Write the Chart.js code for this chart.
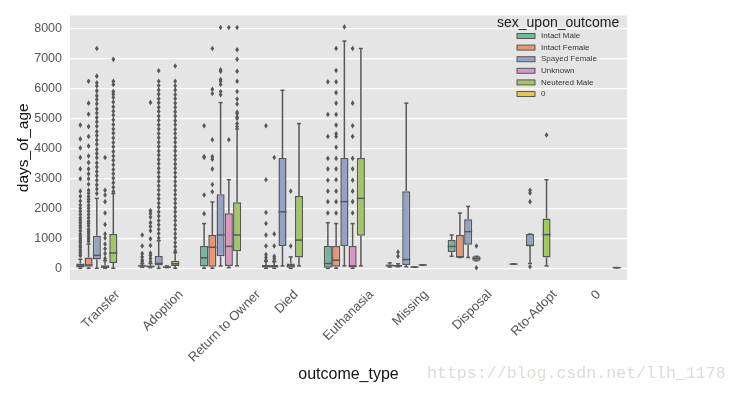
<!DOCTYPE html>
<html>
<head>
<meta charset="utf-8">
<script src="https://cdn.jsdelivr.net/npm/chart.js@4.4.1/dist/chart.umd.min.js"></script>
<style>
	html, body { margin: 0; padding: 0; background: #fff; }
	#chart { display: block; }
</style>
</head>
<body>
<canvas id="chart" width="738" height="393"></canvas>
<script>
const categories = ['Transfer', 'Adoption', 'Return to Owner', 'Died', 'Euthanasia', 'Missing', 'Disposal', 'Rto-Adopt', '0'];
const hues = ['Intact Male', 'Intact Female', 'Spayed Female', 'Unknown', 'Neutered Male', '0'];
const hueColors = ['#71b7a1', '#e99675', '#95a3c3', '#db95c0', '#a2c864', '#e5c849'];
const yTicks = [0, 1000, 2000, 3000, 4000, 5000, 6000, 7000, 8000];

// per category: [whisker low, q1, median, q3, whisker high]
const intactMaleBox = [
	[0, 30, 80, 160, 300], [30, 60, 80, 100, 150], [0, 60, 350, 740, 1490],
	[0, 30, 60, 110, 230], [0, 20, 160, 740, 1520], [40, 60, 90, 130, 180],
	[400, 540, 730, 940, 1110], [140, 140, 140, 140, 140], null,
];
const intactMaleOut = [
	[4770, 4310, 4010, 3690, 3310, 2980, 2570, 2400, 2240, 2110, 2000, 1900, 1790, 1680, 1600, 1520, 1420, 1340, 1250, 1140, 1060, 980, 910, 850, 760, 700, 620, 540, 480, 420],
	[1110, 740, 490, 380, 280, 220],
	[4750, 3720, 3690, 2440, 1820],
	[4750, 2950, 1860, 1490, 1110, 740, 460, 360, 270],
	[6210, 5120, 4390, 3660, 3310, 2930, 2570, 2220, 1840],
	[], [], [], [],
];

const intactFemaleBox = [
	[0, 50, 110, 360, 810], [20, 40, 60, 90, 160], [0, 50, 700, 1110, 2210],
	[0, 30, 60, 110, 220], [0, 50, 270, 740, 1490], [50, 60, 80, 110, 150],
	[360, 360, 380, 1110, 1840], null, null,
];
const intactFemaleOut = [
	[6230, 5500, 5130, 4720, 4390, 4070, 3740, 3520, 3310, 3150, 2980, 2800, 2600, 2500, 2390, 2300, 2220, 2100, 2000, 1900, 1790, 1680, 1570, 1490, 1410, 1300, 1220, 1140, 1060, 980, 900],
	[5520, 1920, 1820, 1700, 1520, 1390, 1250, 980, 760, 510, 430, 330, 220],
	[7320, 5960, 5820, 4280, 3720, 3630, 3310, 2790, 2550],
	[3690, 1140, 740, 400, 330, 240],
	[7320, 6590, 6210, 5850, 5500, 5120, 4770, 4480, 4390, 4030, 3660, 3310, 2950, 2570, 2220, 1840],
	[540, 400],
	[], [], [],
];

const spayedFemaleBox = [
	[0, 290, 430, 1080, 2330], [0, 90, 160, 410, 920], [80, 400, 1110, 2470, 5520],
	[80, 740, 1880, 3670, 5930], [80, 740, 2220, 3670, 7570], [50, 110, 290, 2570, 5500],
	[360, 780, 1220, 1630, 2060], [160, 740, 760, 1140, 1140], null,
];
const spayedFemaleOut = [
	[7320, 6400, 6180, 6070, 5910, 5750, 5620, 5480, 5310, 5170, 5020, 4880, 4730, 4560, 4420, 4270, 4130, 3960, 3820, 3680, 3510, 3370, 3220, 3080, 2930, 2780, 2640, 2490],
	[6580, 6230, 6090, 5940, 5800, 5650, 5510, 5360, 5220, 5070, 4930, 4780, 4640, 4490, 4350, 4200, 4060, 3910, 3770, 3620, 3480, 3330, 3190, 3040, 2900, 2750, 2610, 2460, 2320, 2170, 2030, 1880, 1740, 1590, 1450, 1300, 1160, 1010],
	[8020, 6610, 6560, 6290, 6230, 6120, 5890, 5780],
	[],
	[8040],
	[],
	[],
	[2600, 2510, 2220, 50],
	[],
];

const unknownBox = [
	[0, 10, 40, 100, 250], [20, 30, 40, 60, 80], [20, 80, 730, 1830, 2950],
	[0, 0, 80, 160, 380], [0, 30, 80, 740, 1490], [40, 40, 40, 40, 40],
	[250, 250, 330, 400, 400], null, null,
];
const unknownOut = [
	[3690, 2600, 2440, 2220, 1840, 1460, 1140, 1010, 810, 650, 490, 330],
	[],
	[8020, 4280],
	[2570, 740],
	[7320, 5500, 4750, 4390, 3660, 3310, 2930, 2570, 2220, 1840],
	[],
	[740, 20],
	[], [],
];

const neuteredMaleBox = [
	[0, 180, 510, 1140, 2490], [0, 80, 150, 250, 520], [80, 570, 1110, 2200, 4640],
	[80, 360, 940, 2410, 4820], [80, 1080, 2330, 3670, 7320], [110, 110, 110, 110, 110],
	null, [80, 360, 1120, 1660, 2950], null,
];
const neuteredMaleOut = [
	[6960, 6230, 6120, 5890, 5800, 5690, 5540, 5380, 5230, 5100, 4950, 4790, 4640, 4500, 4340, 4190, 4050, 3890, 3740, 3600, 3450, 3290, 3150, 3000, 2850, 2700, 2560],
	[6740, 6230, 6080, 5940, 5790, 5650, 5500, 5360, 5210, 5070, 4920, 4780, 4630, 4490, 4340, 4200, 4050, 3910, 3760, 3620, 3470, 3330, 3180, 3040, 2890, 2750, 2600, 2460, 2310, 2170, 2020, 1880, 1730, 1590, 1440, 1300, 1150, 1010, 860, 720, 580],
	[8020, 7280, 6960, 6560, 6230, 5890, 5640, 5470, 5200, 5150, 5040, 4990, 4820, 4720],
	[],
	[],
	[],
	[],
	[4440],
	[],
];

const zeroBox = [null, null, null, null, null, null, null, null, [20, 20, 20, 20, 20]];
const zeroOut = [[], [], [], [], [], [], [], [], []];

const boxSets = [intactMaleBox, intactFemaleBox, spayedFemaleBox, unknownBox, neuteredMaleBox, zeroBox];
const outSets = [intactMaleOut, intactFemaleOut, spayedFemaleOut, unknownOut, neuteredMaleOut, zeroOut];

const lineGray = '#585858';
const fontFamily = '"Liberation Sans", Arial, sans-serif';

function strokeLine(ctx, x1, y1, x2, y2) {
	ctx.beginPath();
	ctx.moveTo(x1, y1);
	ctx.lineTo(x2, y2);
	ctx.stroke();
}

const plotBackground = {
	id: 'plotBackground',
	beforeDraw(chart) {
		const { ctx, chartArea } = chart;
		ctx.save();
		ctx.fillStyle = '#e5e5e5';
		ctx.fillRect(chartArea.left, chartArea.top, chartArea.right - chartArea.left, chartArea.bottom - chartArea.top);
		ctx.restore();
	},
};

// whiskers, caps, medians and fliers on top of the floating bars
const boxParts = {
	id: 'boxParts',
	afterDatasetsDraw(chart) {
		const ctx = chart.ctx;
		const y = chart.scales.y;
		ctx.save();
		ctx.strokeStyle = lineGray;
		ctx.fillStyle = lineGray;
		ctx.lineWidth = 1.5;
		chart.data.datasets.forEach((ds, i) => {
			const meta = chart.getDatasetMeta(i);
			meta.data.forEach((bar, j) => {
				const s = ds.stats[j];
				if (!s) return;
				const [lo, q1, med, q3, hi] = s;
				const x = bar.x;
				const half = bar.width / 2;
				const cap = bar.width / 4;
				strokeLine(ctx, x, y.getPixelForValue(q3), x, y.getPixelForValue(hi));
				strokeLine(ctx, x, y.getPixelForValue(q1), x, y.getPixelForValue(lo));
				strokeLine(ctx, x - cap, y.getPixelForValue(hi), x + cap, y.getPixelForValue(hi));
				strokeLine(ctx, x - cap, y.getPixelForValue(lo), x + cap, y.getPixelForValue(lo));
				strokeLine(ctx, x - half, y.getPixelForValue(med), x + half, y.getPixelForValue(med));
				ds.outliers[j].forEach((v) => {
					const py = y.getPixelForValue(v);
					ctx.beginPath();
					ctx.moveTo(x, py - 2.8);
					ctx.lineTo(x + 1.9, py);
					ctx.lineTo(x, py + 2.8);
					ctx.lineTo(x - 1.9, py);
					ctx.closePath();
					ctx.fill();
				});
			});
		});
		ctx.restore();
	},
};

const extraText = {
	id: 'extraText',
	afterDraw(chart) {
		const ctx = chart.ctx;
		const xs = chart.scales.x;
		ctx.save();

		// rotated category labels, centred under each tick
		ctx.font = '13px ' + fontFamily;
		ctx.fillStyle = '#555';
		ctx.textAlign = 'center';
		ctx.textBaseline = 'middle';
		categories.forEach((c, i) => {
			const px = xs.getPixelForValue(i);
			const w = ctx.measureText(c).width;
			const h = (w + 10) * Math.SQRT1_2;
			ctx.save();
			ctx.translate(px, xs.top + 9 + h / 2);
			ctx.rotate(-Math.PI / 4);
			ctx.fillText(c, 0, 0);
			ctx.restore();
		});

		// legend inside the plot
		ctx.textAlign = 'left';
		ctx.fillStyle = '#222';
		ctx.font = '14px ' + fontFamily;
		ctx.fillText('sex_upon_outcome', 497, 23);
		ctx.font = '8px ' + fontFamily;
		hues.forEach((h, i) => {
			const cy = 36 + i * 11.6;
			ctx.fillStyle = hueColors[i];
			ctx.fillRect(517, cy - 2.5, 18, 5);
			ctx.strokeStyle = lineGray;
			ctx.lineWidth = 1;
			ctx.strokeRect(517, cy - 2.5, 18, 5);
			ctx.fillStyle = '#333';
			ctx.fillText(h, 541, cy);
		});

		// watermark
		ctx.font = '16.6px "Liberation Mono", monospace';
		ctx.fillStyle = '#dcdcd7';
		ctx.fillText('https://blog.csdn.net/llh_1178', 427, 374);
		ctx.restore();
	},
};

const datasets = hues.map((h, i) => ({
	label: h,
	data: boxSets[i].map((b) => (b ? [b[1], b[3]] : null)),
	stats: boxSets[i],
	outliers: outSets[i],
	backgroundColor: hueColors[i],
	borderColor: lineGray,
	borderWidth: 1.5,
	borderSkipped: false,
	categoryPercentage: 0.8,
	barPercentage: 0.98,
}));

new Chart(document.getElementById('chart').getContext('2d'), {
	type: 'bar',
	data: {
		labels: categories,
		datasets: datasets,
	},
	options: {
		responsive: false,
		animation: false,
		layout: { padding: { top: 10, right: 111, left: 0, bottom: 0 } },
		plugins: {
			legend: { display: false },
			tooltip: { enabled: false },
		},
		scales: {
			x: {
				grid: { display: false },
				border: { display: false },
				ticks: { display: false },
				title: {
					display: true,
					text: 'outcome_type',
					color: '#111',
					font: { family: fontFamily, size: 16 },
					padding: { top: 0, bottom: 9 },
				},
				afterFit: (scale) => { scale.height = 113; },
			},
			y: {
				min: -390,
				max: 8420,
				grid: { color: '#ffffff', lineWidth: 1.2, drawTicks: false },
				border: { display: false },
				afterBuildTicks: (scale) => { scale.ticks = yTicks.map((v) => ({ value: v })); },
				ticks: {
					color: '#555',
					padding: 8,
					font: { family: fontFamily, size: 12.5 },
					callback: (v) => String(v),
				},
				title: {
					display: true,
					text: 'days_of_age',
					color: '#111',
					font: { family: fontFamily, size: 15.5 },
					padding: { top: 14, bottom: 0 },
				},
				afterFit: (scale) => { scale.width = 70; },
			},
		},
	},
	plugins: [plotBackground, boxParts, extraText],
});
</script>
</body>
</html>
